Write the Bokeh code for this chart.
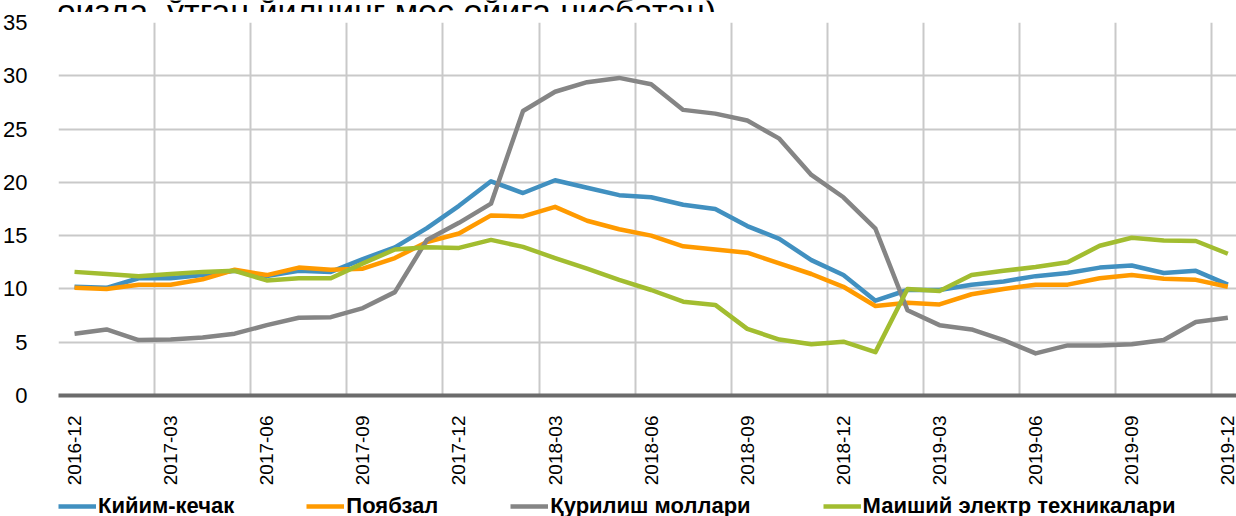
import pandas as pd
from bokeh.plotting import figure
from bokeh.layouts import column
from bokeh.models import Range1d, FixedTicker, Legend, LegendItem, Label
from bokeh.embed import file_html
from bokeh.resources import INLINE

months = list(pd.period_range("2016-12", "2019-12", freq="M").strftime("%Y-%m"))

clothing = [10.2, 10.1, 11.0, 11.0, 11.3, 11.7, 11.2, 11.7, 11.6, 12.8, 13.9,
            15.7, 17.8, 20.1, 19.0, 20.2, 19.5, 18.8, 18.6, 17.9, 17.5, 15.9, 14.7, 12.7,
            11.3, 8.9, 9.9, 9.9, 10.4, 10.7, 11.2, 11.5, 12.0, 12.2, 11.5, 11.7, 10.4]
footwear = [10.1, 10.0, 10.4, 10.4, 10.9, 11.8, 11.3, 12.0, 11.8, 11.9, 12.9,
            14.4, 15.2, 16.9, 16.8, 17.7, 16.4, 15.6, 15.0, 14.0, 13.7, 13.4, 12.4, 11.4,
            10.2, 8.4, 8.7, 8.55, 9.5, 10.0, 10.4, 10.4, 11.0, 11.3, 10.95, 10.85, 10.2]
construction = [5.8, 6.2, 5.2, 5.25, 5.45, 5.8, 6.6, 7.3, 7.35, 8.2, 9.7,
                14.6, 16.2, 18.0, 26.7, 28.5, 29.4, 29.8, 29.2, 26.8, 26.45, 25.8, 24.1, 20.7,
                18.6, 15.65, 8.0, 6.6, 6.2, 5.2, 3.95, 4.7, 4.7, 4.8, 5.2, 6.9, 7.3]
appliances = [11.6, 11.4, 11.2, 11.4, 11.6, 11.7, 10.8, 11.0, 11.0, 12.4, 13.7,
              13.9, 13.85, 14.6, 13.95, 12.9, 11.9, 10.85, 9.9, 8.8, 8.5, 6.25, 5.25, 4.8,
              5.05, 4.07, 10.0, 9.8, 11.3, 11.7, 12.05, 12.5, 14.05, 14.8, 14.55, 14.5, 13.3]

series_names = ["Кийим-кечак", "Поябзал", "Қурилиш моллари", "Маиший электр техникалари"]
series_values = [clothing, footwear, construction, appliances]
series_colors = ["#4190C0", "#FF9A00", "#858585", "#A2BD30"]
title_text = "(фоизда, ўтган йилнинг мос ойига нисбатан)"

FONT = "Liberation Sans"

x = [i + 0.5 for i in range(len(months))]

# title strip (the title is cut off at the top, as in the source picture)
p0 = figure(width=1236, height=12, output_backend="svg", toolbar_location=None,
            x_range=Range1d(0, 1236), y_range=Range1d(0, 12),
            min_border=0, min_border_left=0, min_border_right=0,
            min_border_top=0, min_border_bottom=0)
p0.outline_line_color = None
p0.axis.visible = False
p0.grid.visible = False
p0.add_layout(Label(x=690, y=2, text=title_text, text_align="right",
                    text_baseline="alphabetic", text_font=FONT,
                    text_font_size="34px", text_color="black"))

p = figure(width=1236, height=478, output_backend="svg", toolbar_location=None,
           x_range=Range1d(0, 36.77), y_range=Range1d(0, 35),
           min_border_left=58, min_border_right=0, min_border_top=10, min_border_bottom=95)
p.outline_line_color = None
p.background_fill_color = "white"
p.border_fill_color = "white"

# grids
p.xgrid.ticker = FixedTicker(ticks=list(range(0, 37, 3)))
p.ygrid.ticker = FixedTicker(ticks=[5, 10, 15, 20, 25, 30, 35])
for g in (p.xgrid, p.ygrid):
    g.grid_line_color = "#C9C9C9"
    g.grid_line_width = 2

# x axis
p.xaxis.ticker = FixedTicker(ticks=[x[i] for i in range(0, len(months), 3)])
p.xaxis.major_label_overrides = {x[i]: months[i] for i in range(0, len(months), 3)}
p.xaxis.major_label_orientation = 3.14159265 / 2
p.xaxis.major_label_text_font = FONT
p.xaxis.major_label_text_font_size = "19px"
p.xaxis.major_label_text_color = "black"
p.xaxis.major_label_standoff = 14
p.xaxis.major_tick_line_color = None
p.xaxis.minor_tick_line_color = None
p.xaxis.axis_line_color = "#6B6B6B"
p.xaxis.axis_line_width = 4

# y axis
p.yaxis.ticker = FixedTicker(ticks=[0, 5, 10, 15, 20, 25, 30, 35])
p.yaxis.major_label_text_font = FONT
p.yaxis.major_label_text_font_size = "22px"
p.yaxis.major_label_text_color = "black"
p.yaxis.major_label_standoff = 25
p.yaxis.major_tick_line_color = None
p.yaxis.minor_tick_line_color = None
p.yaxis.axis_line_color = None

for vals, col in zip(series_values, series_colors):
    p.line(x, vals, line_color=col, line_width=4.5, line_join="round")

# legend strip (proxy renderers fall outside its own range, so only the legend shows)
p2 = figure(width=1236, height=26, output_backend="svg", toolbar_location=None,
            x_range=Range1d(0, 1), y_range=Range1d(0, 1),
            min_border_left=57, min_border_right=0, min_border_top=3, min_border_bottom=0)
p2.outline_line_color = None
p2.axis.visible = False
p2.grid.visible = False
items = []
for name, vals, col in zip(series_names, series_values, series_colors):
    r = p2.line(x, vals, line_color=col, line_width=4.5)
    items.append(LegendItem(label=name, renderers=[r]))
legend = Legend(items=items, orientation="horizontal", location="top_left",
                glyph_width=38, label_standoff=2, spacing=72,
                padding=0, margin=0, border_line_color=None, background_fill_alpha=0,
                label_text_font=FONT, label_text_font_size="22px",
                label_text_font_style="bold", label_text_color="black")
p2.add_layout(legend, "center")

layout = column(p0, p, p2, spacing=0)
open("out.html", "w").write(file_html(layout, INLINE))
